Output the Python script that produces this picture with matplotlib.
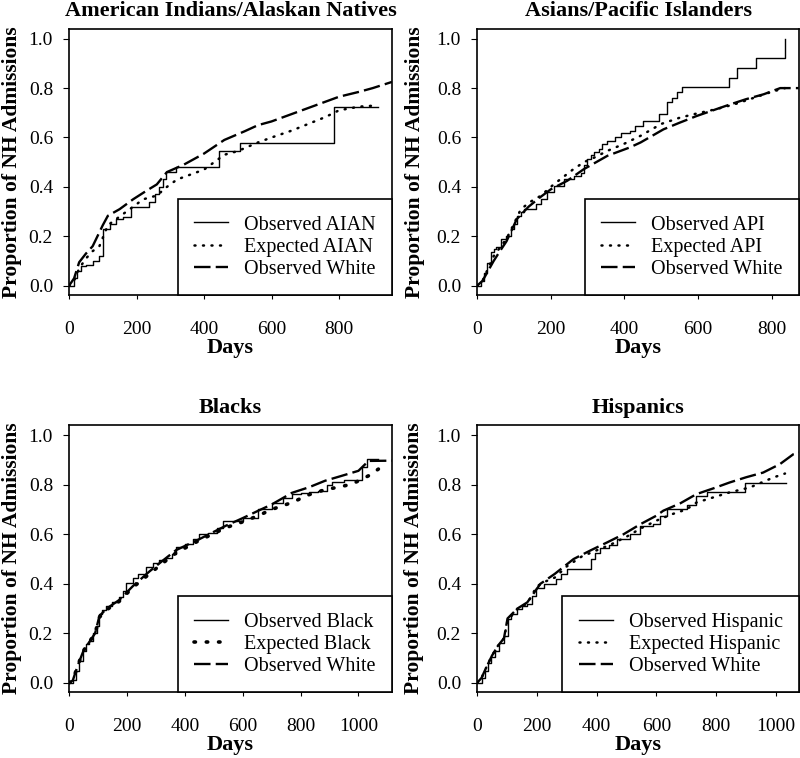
import matplotlib
matplotlib.use('Agg')
import matplotlib.pyplot as plt

plt.rcParams['font.family'] = ['Liberation Serif', 'DejaVu Serif']

# ---- American Indians / Alaskan Natives ----
aian_obs_days = [0, 15, 25, 35, 50, 70, 90, 100, 120, 140, 160, 185, 237, 255, 267, 278, 288, 317, 444, 507, 786, 916]
aian_obs_prop = [0, 0.03, 0.06, 0.08, 0.085, 0.10, 0.12, 0.23, 0.25, 0.27, 0.28, 0.32, 0.34, 0.37, 0.40, 0.43, 0.46, 0.48, 0.546, 0.578, 0.722, 0.722]
aian_exp_days = [0, 15, 30, 50, 70, 90, 115, 140, 170, 200, 220, 260, 290, 320, 350, 400, 460, 500, 560, 600, 660, 700, 760, 800, 860, 916]
aian_exp_prop = [0, 0.02, 0.07, 0.11, 0.14, 0.16, 0.245, 0.27, 0.30, 0.33, 0.35, 0.365, 0.40, 0.43, 0.445, 0.47, 0.53, 0.545, 0.58, 0.60, 0.628, 0.65, 0.683, 0.71, 0.725, 0.73]
aian_white_days = [0, 15, 30, 50, 70, 100, 115, 150, 190, 230, 260, 290, 340, 400, 460, 520, 560, 600, 660, 700, 760, 800, 860, 900, 957]
aian_white_prop = [0, 0.03, 0.095, 0.13, 0.16, 0.245, 0.283, 0.31, 0.35, 0.385, 0.41, 0.46, 0.49, 0.535, 0.59, 0.625, 0.65, 0.665, 0.695, 0.715, 0.745, 0.765, 0.785, 0.80, 0.825]

# ---- Asians / Pacific Islanders ----
api_obs_days = [0, 12, 20, 28, 37, 45, 51, 64, 78, 92, 100, 108, 118, 128, 159, 173, 190, 209, 236, 263, 281, 290, 299, 308, 317, 330, 340, 354, 375, 390, 415, 430, 451, 495, 516, 530, 542, 556, 684, 705, 758, 836]
api_obs_prop = [0, 0.02, 0.05, 0.09, 0.136, 0.15, 0.155, 0.19, 0.2, 0.23, 0.25, 0.283, 0.30, 0.31, 0.33, 0.35, 0.38, 0.404, 0.43, 0.445, 0.458, 0.49, 0.512, 0.53, 0.54, 0.555, 0.573, 0.587, 0.60, 0.62, 0.627, 0.645, 0.667, 0.694, 0.742, 0.76, 0.783, 0.805, 0.842, 0.883, 0.923, 1.0]
api_exp_days = [0, 15, 30, 45, 60, 80, 100, 119, 145, 173, 200, 227, 260, 290, 320, 354, 400, 444, 500, 550, 596, 650, 700, 750, 800, 836]
api_exp_prop = [0, 0.02, 0.07, 0.12, 0.15, 0.19, 0.25, 0.31, 0.34, 0.364, 0.40, 0.432, 0.47, 0.50, 0.52, 0.546, 0.575, 0.607, 0.655, 0.68, 0.697, 0.715, 0.735, 0.76, 0.785, 0.80]
api_white_days = [0, 15, 30, 45, 60, 80, 108, 140, 173, 200, 245, 290, 354, 415, 444, 506, 550, 596, 650, 687, 730, 778, 823, 873]
api_white_prop = [0, 0.02, 0.06, 0.10, 0.135, 0.18, 0.27, 0.32, 0.36, 0.39, 0.425, 0.472, 0.526, 0.56, 0.58, 0.633, 0.66, 0.687, 0.715, 0.734, 0.755, 0.775, 0.80, 0.80]

# ---- Blacks ----
blk_obs_days = [0, 13, 25, 35, 47, 60, 70, 82, 95, 105, 115, 128, 150, 174, 185, 197, 220, 240, 266, 290, 310, 335, 355, 370, 400, 430, 450, 480, 510, 531, 550, 600, 654, 700, 740, 770, 800, 830, 862, 890, 908, 950, 1012, 1029, 1069]
blk_obs_prop = [0, 0.01, 0.05, 0.09, 0.13, 0.155, 0.17, 0.20, 0.23, 0.278, 0.295, 0.31, 0.325, 0.345, 0.37, 0.405, 0.425, 0.44, 0.466, 0.485, 0.495, 0.506, 0.52, 0.547, 0.56, 0.58, 0.60, 0.605, 0.625, 0.654, 0.655, 0.665, 0.70, 0.725, 0.745, 0.762, 0.765, 0.77, 0.775, 0.80, 0.809, 0.818, 0.87, 0.903, 0.903]
blk_exp_days = [0, 13, 30, 50, 70, 90, 105, 130, 174, 220, 278, 320, 370, 450, 543, 600, 654, 700, 770, 830, 885, 930, 977, 1035, 1069]
blk_exp_prop = [0, 0.01, 0.07, 0.13, 0.165, 0.2, 0.265, 0.295, 0.33, 0.385, 0.44, 0.48, 0.525, 0.575, 0.627, 0.65, 0.675, 0.70, 0.728, 0.76, 0.78, 0.79, 0.802, 0.836, 0.863]
blk_white_days = [0, 13, 30, 50, 70, 90, 105, 130, 174, 220, 278, 320, 370, 450, 543, 600, 654, 700, 770, 830, 885, 940, 1000, 1035, 1120]
blk_white_prop = [0, 0.01, 0.07, 0.13, 0.165, 0.2, 0.27, 0.30, 0.335, 0.39, 0.45, 0.49, 0.536, 0.58, 0.635, 0.665, 0.695, 0.72, 0.767, 0.79, 0.816, 0.835, 0.856, 0.896, 0.897]

# ---- Hispanics ----
hsp_obs_days = [0, 15, 25, 35, 46, 60, 75, 90, 102, 115, 135, 150, 168, 185, 196, 224, 265, 280, 300, 380, 395, 412, 440, 467, 512, 545, 590, 612, 634, 701, 734, 768, 896, 1034]
hsp_obs_prop = [0, 0.02, 0.05, 0.08, 0.103, 0.13, 0.16, 0.19, 0.258, 0.28, 0.298, 0.31, 0.318, 0.35, 0.385, 0.40, 0.42, 0.44, 0.46, 0.50, 0.525, 0.546, 0.555, 0.58, 0.60, 0.635, 0.64, 0.675, 0.70, 0.72, 0.755, 0.769, 0.805, 0.805]
hsp_exp_days = [0, 15, 30, 50, 70, 90, 102, 135, 168, 200, 230, 260, 300, 350, 400, 450, 500, 550, 600, 650, 700, 734, 780, 845, 913, 991, 1030]
hsp_exp_prop = [0, 0.02, 0.06, 0.11, 0.15, 0.18, 0.25, 0.30, 0.32, 0.39, 0.41, 0.425, 0.47, 0.51, 0.535, 0.56, 0.59, 0.625, 0.655, 0.68, 0.70, 0.728, 0.745, 0.769, 0.789, 0.829, 0.845]
hsp_white_days = [0, 15, 30, 50, 70, 90, 102, 135, 168, 212, 260, 323, 380, 435, 490, 547, 600, 623, 680, 734, 790, 845, 900, 957, 1013, 1058, 1077]
hsp_white_prop = [0, 0.02, 0.06, 0.11, 0.15, 0.18, 0.26, 0.30, 0.325, 0.40, 0.44, 0.50, 0.535, 0.567, 0.60, 0.641, 0.675, 0.695, 0.725, 0.762, 0.785, 0.809, 0.83, 0.849, 0.883, 0.923, 0.93]

titles = ['American Indians/Alaskan Natives', 'Asians/Pacific Islanders', 'Blacks', 'Hispanics']
groups = ['AIAN', 'API', 'Black', 'Hispanic']
x_max = [957, 874, 1116, 1077]
x_ticks = [[0, 200, 400, 600, 800], [0, 200, 400, 600, 800],
           [0, 200, 400, 600, 800, 1000], [0, 200, 400, 600, 800, 1000]]
y_ticks = [0.0, 0.2, 0.4, 0.6, 0.8, 1.0]

series = [
    (aian_obs_days, aian_obs_prop, aian_exp_days, aian_exp_prop, aian_white_days, aian_white_prop),
    (api_obs_days, api_obs_prop, api_exp_days, api_exp_prop, api_white_days, api_white_prop),
    (blk_obs_days, blk_obs_prop, blk_exp_days, blk_exp_prop, blk_white_days, blk_white_prop),
    (hsp_obs_days, hsp_obs_prop, hsp_exp_days, hsp_exp_prop, hsp_white_days, hsp_white_prop),
]

# axes boxes in figure fractions [left, bottom, width, height]
boxes = [[0.0863, 0.611, 0.4037, 0.351], [0.5963, 0.611, 0.4025, 0.351],
         [0.0863, 0.087, 0.4037, 0.352], [0.5963, 0.087, 0.4025, 0.352]]
ylabel_x = [-0.146, -0.161, -0.146, -0.165]

fig = plt.figure(figsize=(8, 7.58), dpi=100)

for i in range(4):
    ax = fig.add_axes(boxes[i])
    od, op, ed, ep, wd, wp = series[i]
    dot_lw = 2.6 if i == 2 else 1.8
    ax.plot(od, op, color='black', lw=1.0, drawstyle='steps-post',
            label='Observed ' + groups[i])
    ax.plot(ed, ep, color='black', lw=dot_lw, linestyle=(0, (0.4, 3.0)),
            dash_capstyle='round', label='Expected ' + groups[i])
    ax.plot(wd, wp, color='black', lw=1.7, linestyle=(0, (7, 2.2)),
            label='Observed White')

    ax.set_xlim(0, x_max[i])
    ax.set_ylim(-0.037, 1.04)
    ax.set_xticks(x_ticks[i])
    ax.set_yticks(y_ticks)
    ax.set_yticklabels(['%.1f' % v for v in y_ticks])
    ax.tick_params(axis='x', direction='out', length=3, pad=16, labelsize=14)
    ax.tick_params(axis='y', direction='out', length=4.5, pad=7, labelsize=14)
    for s in ax.spines.values():
        s.set_linewidth(1.2)

    ax.set_title(titles[i], fontsize=16, fontweight='bold', pad=9)
    ax.set_xlabel('Days', fontsize=16, fontweight='bold', labelpad=0)
    ax.set_ylabel('Proportion of NH Admissions', fontsize=15.5, fontweight='bold')
    ax.yaxis.set_label_coords(ylabel_x[i], 0.5)

    leg = ax.legend(loc='lower right', borderaxespad=0, fontsize=14.5,
                    fancybox=False, framealpha=1, edgecolor='black',
                    handlelength=1.7, handletextpad=0.8, labelspacing=0.15,
                    borderpad=0.8)
    leg.get_frame().set_linewidth(1.2)

fig.savefig('out.png', dpi=100)
